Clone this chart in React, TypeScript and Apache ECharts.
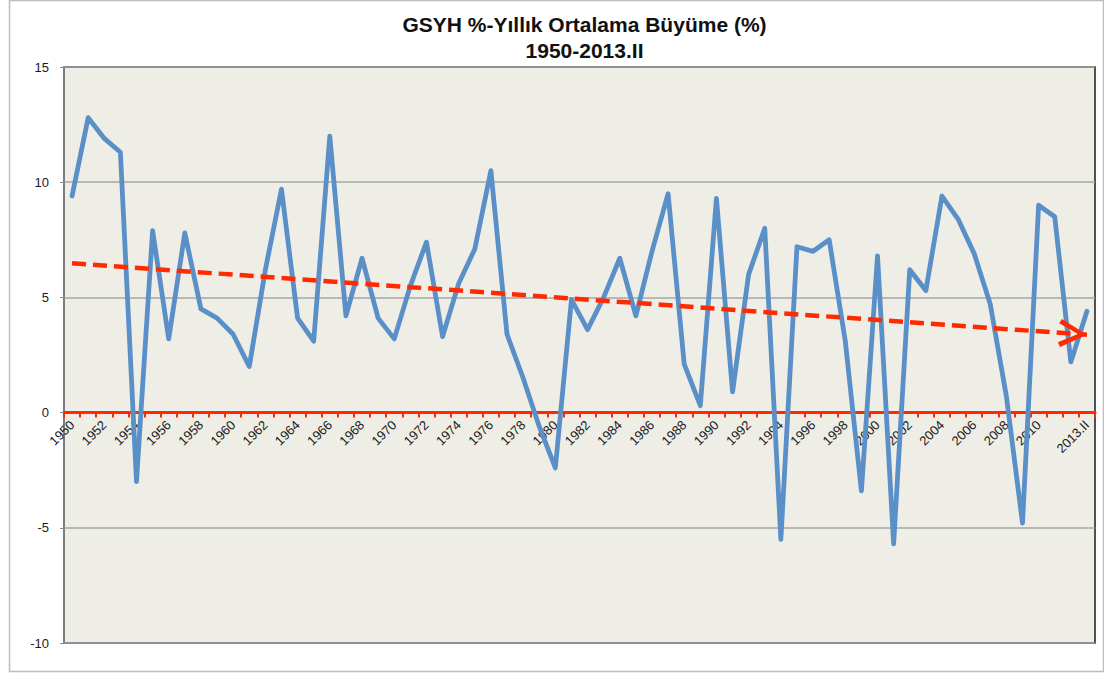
import React, { useEffect, useRef } from "react";
import * as echarts from "echarts";

const titleLine1 = "GSYH %-Yıllık Ortalama Büyüme (%)";
const titleLine2 = "1950-2013.II";

const categories = [
  "1950", "1951", "1952", "1953", "1954", "1955", "1956", "1957", "1958", "1959",
  "1960", "1961", "1962", "1963", "1964", "1965", "1966", "1967", "1968", "1969",
  "1970", "1971", "1972", "1973", "1974", "1975", "1976", "1977", "1978", "1979",
  "1980", "1981", "1982", "1983", "1984", "1985", "1986", "1987", "1988", "1989",
  "1990", "1991", "1992", "1993", "1994", "1995", "1996", "1997", "1998", "1999",
  "2000", "2001", "2002", "2003", "2004", "2005", "2006", "2007", "2008", "2009",
  "2010", "2011", "2012", "2013.II",
];

const growth = [
  9.4, 12.8, 11.9, 11.3, -3.0, 7.9, 3.2, 7.8, 4.5, 4.1,
  3.4, 2.0, 6.2, 9.7, 4.1, 3.1, 12.0, 4.2, 6.7, 4.1,
  3.2, 5.5, 7.4, 3.3, 5.6, 7.1, 10.5, 3.4, 1.5, -0.6,
  -2.4, 4.9, 3.6, 5.0, 6.7, 4.2, 7.0, 9.5, 2.1, 0.3,
  9.3, 0.9, 6.0, 8.0, -5.5, 7.2, 7.0, 7.5, 3.1, -3.4,
  6.8, -5.7, 6.2, 5.3, 9.4, 8.4, 6.9, 4.7, 0.7, -4.8,
  9.0, 8.5, 2.2, 4.4,
];

const trendStart = 6.48;
const trendEnd = 3.38;

const yMin = -10;
const yMax = 15;
const yStep = 5;

const FONT = "'Liberation Sans', Arial, sans-serif";
// chevron pointing up; a tiny dot above extends the box so the tip sits at its centre
const chevron =
  "path://M14,0 L28,26 L23.5,28.5 L14,9 L4.5,28.5 L0,26 Z M14,-28.5 L14.05,-28.5 L14,-28.45 Z";

const GRID_LEFT = 64;
const GRID_RIGHT = 9;
const GRID_TOP = 67;
const GRID_BOTTOM = 32;
const CHART_W = 1104;
const CHART_H = 675;

export default function App() {
  const ref = useRef<HTMLDivElement>(null);

  useEffect(() => {
    if (!ref.current) return;
    const chart = echarts.init(ref.current, null, { renderer: "svg" });
    const plotH = CHART_H - GRID_TOP - GRID_BOTTOM;
    const zeroFromBottom = (plotH * (0 - yMin)) / (yMax - yMin);
    const plotCenterX = (GRID_LEFT + CHART_W - GRID_RIGHT) / 2;
    const lastIdx = categories.length - 1;
    chart.setOption({
      animation: false,
      backgroundColor: "#ffffff",
      textStyle: { fontFamily: FONT },
      title: {
        text: titleLine1 + "\n" + titleLine2,
        left: plotCenterX,
        textAlign: "center",
        top: 6,
        textStyle: {
          fontFamily: FONT,
          fontWeight: "bold",
          fontSize: 21,
          lineHeight: 26,
          color: "#111111",
        },
      },
      graphic: [
        {
          type: "rect",
          shape: { x: 9.5, y: 0.5, width: 1094, height: 671 },
          style: { fill: "none", stroke: "#bdbdbd", lineWidth: 1.5 },
          silent: true,
          z: -10,
        },
      ],
      grid: {
        left: GRID_LEFT,
        top: GRID_TOP,
        right: GRID_RIGHT,
        bottom: GRID_BOTTOM,
        show: true,
        backgroundColor: "#efeee6",
        borderColor: "#1a1a1a",
        borderWidth: 1.5,
      },
      xAxis: {
        type: "category",
        data: categories,
        boundaryGap: true,
        offset: -zeroFromBottom,
        axisLine: { onZero: false, lineStyle: { color: "#ff2a00", width: 3 } },
        axisTick: {
          show: true,
          interval: 0,
          length: 5,
          lineStyle: { color: "#ff2a00", width: 2 },
        },
        axisLabel: {
          interval: (i: number) => i % 2 === 0 || i === lastIdx,
          rotate: 45,
          margin: 10,
          hideOverlap: false,
          showMaxLabel: true,
          color: "#1a1a1a",
          fontSize: 13,
          fontFamily: FONT,
        },
        splitLine: { show: false },
      },
      yAxis: {
        type: "value",
        min: yMin,
        max: yMax,
        interval: yStep,
        axisLine: { show: true, lineStyle: { color: "#8c8c8c", width: 1.5 } },
        axisTick: { show: true, length: 4, lineStyle: { color: "#8c8c8c", width: 1 } },
        axisLabel: { color: "#1a1a1a", fontSize: 13, margin: 15, fontFamily: FONT },
        splitLine: { show: true, lineStyle: { color: "#a6a6a6", width: 1.5 } },
      },
      series: [
        {
          type: "line",
          data: growth,
          showSymbol: false,
          symbol: "none",
          lineStyle: { color: "#5b8fc8", width: 4.8, join: "round", cap: "round" },
          itemStyle: { color: "#5b8fc8" },
          silent: true,
          markLine: {
            silent: true,
            animation: false,
            symbol: ["none", chevron],
            symbolSize: [28, 57],
            label: { show: false },
            emphasis: { disabled: true },
            lineStyle: { color: "#ff2a00", width: 4.5, type: [14, 7], opacity: 1 },
            itemStyle: { color: "#ff2a00" },
            data: [
              [
                { coord: [categories[0], trendStart] },
                { coord: [categories[lastIdx], trendEnd] },
              ],
            ],
          },
        },
      ],
    });
    return () => chart.dispose();
  }, []);

  return (
    <div
      ref={ref}
      style={{ position: "fixed", left: 0, top: 0, width: CHART_W, height: CHART_H }}
    />
  );
}
